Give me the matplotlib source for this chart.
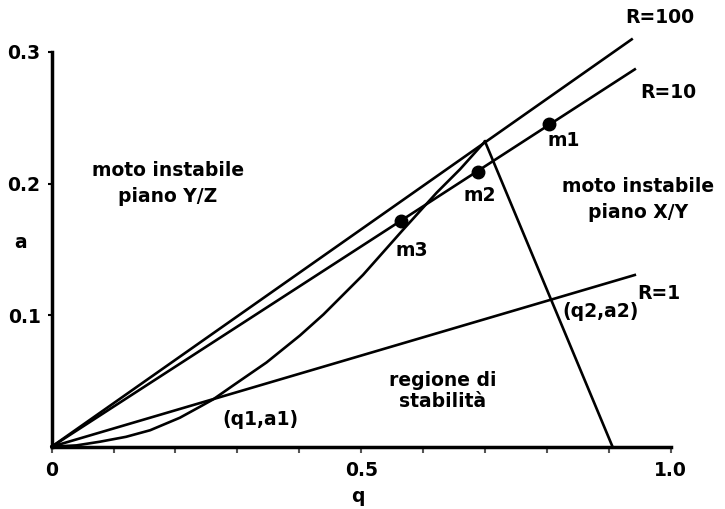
import matplotlib.pyplot as plt

# stability boundary (left curve up to the apex, then straight down)
curve_q = [0, 0.04, 0.078, 0.12, 0.159, 0.207, 0.240, 0.261, 0.293, 0.347, 0.401, 0.439,
           0.503, 0.565, 0.622, 0.660, 0.70]
curve_a = [0, 0.001, 0.0038, 0.0075, 0.0125, 0.022, 0.0305, 0.036, 0.0465, 0.064, 0.0845, 0.1005,
           0.1306, 0.1635, 0.1931, 0.211, 0.232]
right_q = [0.70, 0.906]
right_a = [0.232, 0.0]

# scan lines a = k*q, drawn from the origin to q_end
r_labels = ['R=100', 'R=10', 'R=1']
r_q_end = [0.937, 0.942, 0.942]
r_a_end = [0.3096, 0.2868, 0.1305]

# working points
m_labels = ['m1', 'm2', 'm3']
m_q = [0.803, 0.688, 0.565]
m_a = [0.245, 0.209, 0.1717]

xticks = [0, 0.1, 0.2, 0.3, 0.4, 0.5, 0.6, 0.7, 0.8, 0.9, 1.0]
xtick_labels = ['0', '', '', '', '', '0.5', '', '', '', '', '1.0']
yticks = [0.1, 0.2, 0.3]
ytick_labels = ['0.1', '0.2', '0.3']

fig = plt.figure(figsize=(7.25, 5.09), dpi=100)
ax = fig.add_axes([0.0713, 0.1224, 0.8538, 0.7755])
ax.set_xlim(0, 1.0)
ax.set_ylim(0, 0.3)

lw = 1.9
ax.plot(curve_q, curve_a, color='black', lw=lw, clip_on=False, solid_joinstyle='round')
ax.plot(right_q, right_a, color='black', lw=lw, clip_on=False)
for qe, ae in zip(r_q_end, r_a_end):
    ax.plot([0, qe], [0, ae], color='black', lw=lw, clip_on=False)
ax.plot(m_q, m_a, 'o', color='black', ms=9, clip_on=False)

for s in ['top', 'right']:
    ax.spines[s].set_visible(False)
for s in ['left', 'bottom']:
    ax.spines[s].set_linewidth(2.5)

fs = 13.5
ax.set_xticks(xticks)
ax.set_xticklabels(xtick_labels, fontsize=fs, fontweight='bold')
ax.set_yticks(yticks)
ax.set_yticklabels(ytick_labels, fontsize=fs, fontweight='bold')
ax.tick_params(axis='x', length=4, width=1.5, color='#555555', pad=6)
ax.tick_params(axis='y', length=3, width=1.5, pad=5)

kw = dict(fontsize=fs, fontweight='bold', ha='center', va='center', clip_on=False)
ax.text(0.983, 0.326, 'R=100', **kw)
ax.text(0.996, 0.2695, 'R=10', **kw)
ax.text(0.98, 0.1166, 'R=1', **kw)
ax.text(0.886, 0.1026, '(q2,a2)', **kw)
ax.text(0.337, 0.0203, '(q1,a1)', **kw)
ax.text(0.631, 0.0423, 'regione di\nstabilità', linespacing=1.1, **kw)
ax.text(0.8266, 0.2325, 'm1', **kw)
ax.text(0.692, 0.191, 'm2', **kw)
ax.text(0.5816, 0.149, 'm3', **kw)
ax.text(0.188, 0.2, 'moto instabile\npiano Y/Z', linespacing=1.5, **kw)
ax.text(0.947, 0.188, 'moto instabile\npiano X/Y', linespacing=1.5, **kw)
ax.text(-0.051, 0.1555, 'a', **kw)
ax.text(0.494, -0.038, 'q', **kw)

plt.savefig('out.png', dpi=100)
